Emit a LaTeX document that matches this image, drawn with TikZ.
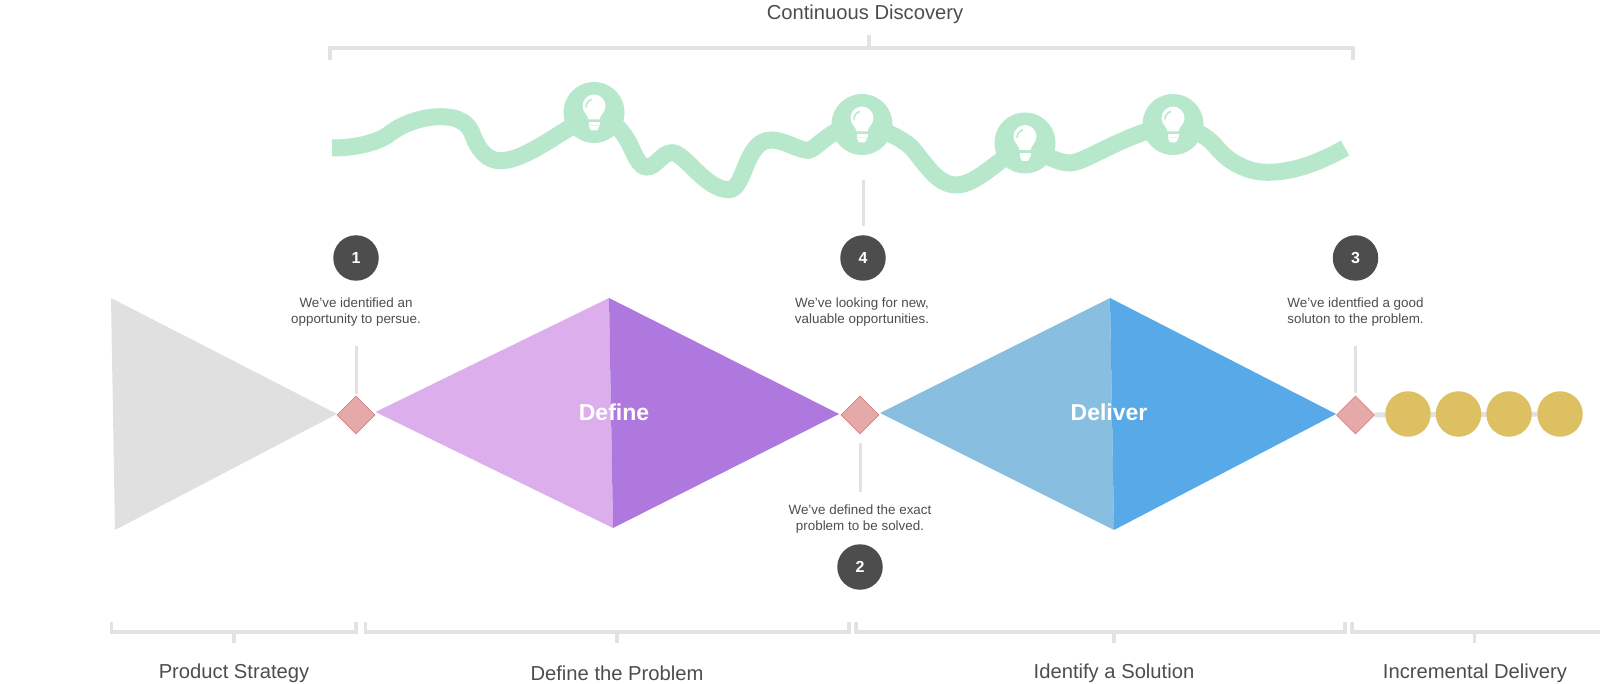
\documentclass[tikz,border=0pt]{standalone}
\usepackage{fontspec}
\setmainfont{Liberation Sans}
\usetikzlibrary{backgrounds,shapes.geometric}
\definecolor{ruleGray}{HTML}{E2E2E2}
\definecolor{inkGray}{HTML}{4D4D4D}
\definecolor{ideaGreen}{HTML}{B7E8CC}
\definecolor{stratGray}{HTML}{E0E0E0}
\definecolor{defLight}{HTML}{DCAFEC}
\definecolor{defDark}{HTML}{AE78DF}
\definecolor{delLight}{HTML}{88BFE0}
\definecolor{delDark}{HTML}{58A9E8}
\definecolor{gateFill}{HTML}{E5A9A9}
\definecolor{gateEdge}{HTML}{DE8080}
\definecolor{dotGold}{HTML}{DCC062}
\tikzset{
  rulebar/.style={draw=ruleGray, line width=4pt},
  lowbar/.style={draw=ruleGray, line width=3.4pt},
  stem/.style={draw=ruleGray, line width=3pt},
  track/.style={draw=ruleGray, line width=5pt},
  wave/.style={draw=ideaGreen, line width=17pt},
  gate/.style={diamond, aspect=1, draw=gateEdge, fill=gateFill, line width=.6pt,
    minimum width=38pt, minimum height=38pt, inner sep=0pt},
  badge/.style={circle, fill=inkGray, minimum size=45.5pt, inner sep=0pt, text=white,
    font=\fontsize{16}{18}\selectfont\bfseries},
  notetext/.style={align=center, text=inkGray, font=\fontsize{13.4}{16.8}\selectfont},
  headtext/.style={text=inkGray, font=\fontsize{20.2}{22}\selectfont},
  bigtext/.style={text=white, font=\fontsize{23}{28}\selectfont\bfseries},
  idea/.style={circle, fill=ideaGreen, minimum size=61pt, inner sep=0pt},
  golddot/.style={circle, fill=dotGold, minimum size=45.5pt, inner sep=0pt},
  bulb/.pic={
    \fill[white] (-5.5,7) .. controls (-6,2) and (-11.5,0) .. (-11.5,-6.5)
      .. controls (-11.5,-13) and (-6,-18) .. (0,-18)
      .. controls (6,-18) and (11.5,-13) .. (11.5,-6.5)
      .. controls (11.5,0) and (6,2) .. (5.5,7) -- cycle;
    \fill[white] (-5.5,10) rectangle (5.5,13);
    \fill[white] (-5.5,13) -- (5.5,13) -- (3,18) -- (-3,18) -- cycle;
    \draw[ideaGreen, line width=1.5pt] (-8,-5) .. controls (-8,-9) and (-5.5,-12.5) .. (-2,-13);
  }
}
\begin{document}
\begin{tikzpicture}[x=1pt,y=-1pt]
  \useasboundingbox (0,0) rectangle (1600,684);

  % phases
  \fill[stratGray] (111,298) -- (337,414) -- (115,530) -- cycle;
  \fill[defLight] (375.5,412) -- (609,298) -- (613,528) -- cycle;
  \fill[defDark] (609,298) -- (839,414) -- (613,528) -- cycle;
  \fill[delLight] (880,413) -- (1110,298) -- (1114,530) -- cycle;
  \fill[delDark] (1110,298) -- (1336,414) -- (1114,530) -- cycle;
  \node[bigtext] (define) at (614,412) {Define};
  \node[bigtext] (deliver) at (1109,412) {Deliver};

  \node[gate] (gate1) at (356,415) {};
  \node[gate] (gate2) at (860,415) {};
  \node[gate] (gate3) at (1355.5,415) {};

  \node[golddot] (dot1) at (1408,414) {};
  \node[golddot] (dot2) at (1458.5,414) {};
  \node[golddot] (dot3) at (1509,414) {};
  \node[golddot] (dot4) at (1560,414) {};

  % ideas
  \node[idea] (idea1) at (594,112.5) {};
  \node[idea] (idea2) at (862,124.5) {};
  \node[idea] (idea3) at (1025,143) {};
  \node[idea] (idea4) at (1173,124.5) {};
  \foreach \n in {1,2,3,4}
    \pic at (idea\n) {bulb};

  % numbered notes
  \node[badge] (badge1) at (356,258) {1};
  \node[notetext] (note1) at (356,312) {We’ve identified an\\opportunity to persue.};
  \node[badge] (badge4) at (863,258) {4};
  \node[notetext] (note4) at (862,312) {We’ve looking for new,\\valuable opportunities.};
  \node[badge] (badge3) at (1355.5,258) {3};
  \node[notetext] (note3) at (1355.5,312) {We’ve identfied a good\\soluton to the problem.};
  \node[notetext] (note2) at (860,519) {We’ve defined the exact\\problem to be solved.};
  \node[badge] (badge2) at (860,567) {2};

  \draw[stem, shorten <=2pt, shorten >=16pt] (gate1.north) -- (note1.south);
  \draw[stem, shorten <=3pt, shorten >=16pt] (gate3.north) -- (note3.south);
  \draw[stem, shorten <=9pt, shorten >=9pt] (gate2.south) -- (note2.north);
  \draw[stem, shorten <=24.5pt, shorten >=9pt] (badge4 |- idea2.south) -- (badge4.north);

  % brackets
  \draw[rulebar] (329.5,60) |- (1353,48) -- (1353,60);
  \coordinate (topmid) at (869,48);
  \node[headtext] (discovery) at (865,14.5) {Continuous Discovery};
  \draw[rulebar] (topmid) -- ++(0,-13);

  \draw[lowbar] (111.5,622) |- (356,632) -- (356,622);
  \draw[lowbar] (365.5,622) |- (849,632) -- (849,622);
  \draw[lowbar] (856,622) |- (1345,632) -- (1345,622);
  \draw[lowbar] (1352,622) |- (1600,632);
  \coordinate (tick1) at (234,632);
  \coordinate (tick2) at (617,632);
  \coordinate (tick3) at (1114,632);
  \coordinate (tick4) at (1474.5,632);
  \foreach \n in {1,2,3,4}
    \draw[lowbar] (tick\n) -- ++(0,11);
  \node[headtext] (strategy) at (234,673) {Product Strategy};
  \node[headtext] (problem) at (617,673) {Define the Problem};
  \node[headtext] (solution) at (1114,673) {Identify a Solution};
  \node[headtext] (delivery) at (1475,673) {Incremental Delivery};

  \begin{scope}[on background layer]
    \draw[track] (gate3) -- (dot4);
    \draw[wave] (332,148) .. controls (352,148) and (374,144) .. (388,135)
      .. controls (400,125) and (420,116.7) .. (441,116.7)
      .. controls (460,116.7) and (468,124) .. (472,133)
      .. controls (478,150) and (487,160.7) .. (500,160.7)
      .. controls (522,160.7) and (546,142) .. (idea1.center);
    \draw[wave] (idea1.center) .. controls (612,118) and (624,132) .. (631,147)
      .. controls (636,158) and (640,167) .. (647,167)
      .. controls (656,167) and (662,152.7) .. (672,152.7)
      .. controls (685,152.7) and (705,189.7) .. (729,189.7)
      .. controls (745,189.7) and (745,140) .. (771,140)
      .. controls (785,140) and (798,150.3) .. (808,150.3)
      .. controls (816,150.3) and (832,125) .. (idea2.center);
    \draw[wave] (idea2.center) .. controls (880,128) and (902,138) .. (912,148)
      .. controls (925,163) and (937,185) .. (956,185)
      .. controls (975,185) and (995,163) .. (idea3.center);
    \draw[wave] (idea3.center) .. controls (1042,153) and (1056,163) .. (1070,163)
      .. controls (1085,163) and (1125,133) .. (idea4.center);
    \draw[wave] (idea4.center) .. controls (1192,128) and (1208,136) .. (1217,148)
      .. controls (1230,163) and (1248,172.3) .. (1268,172.3)
      .. controls (1295,172.3) and (1322,161) .. (1345,148);
  \end{scope}
\end{tikzpicture}
\end{document}
